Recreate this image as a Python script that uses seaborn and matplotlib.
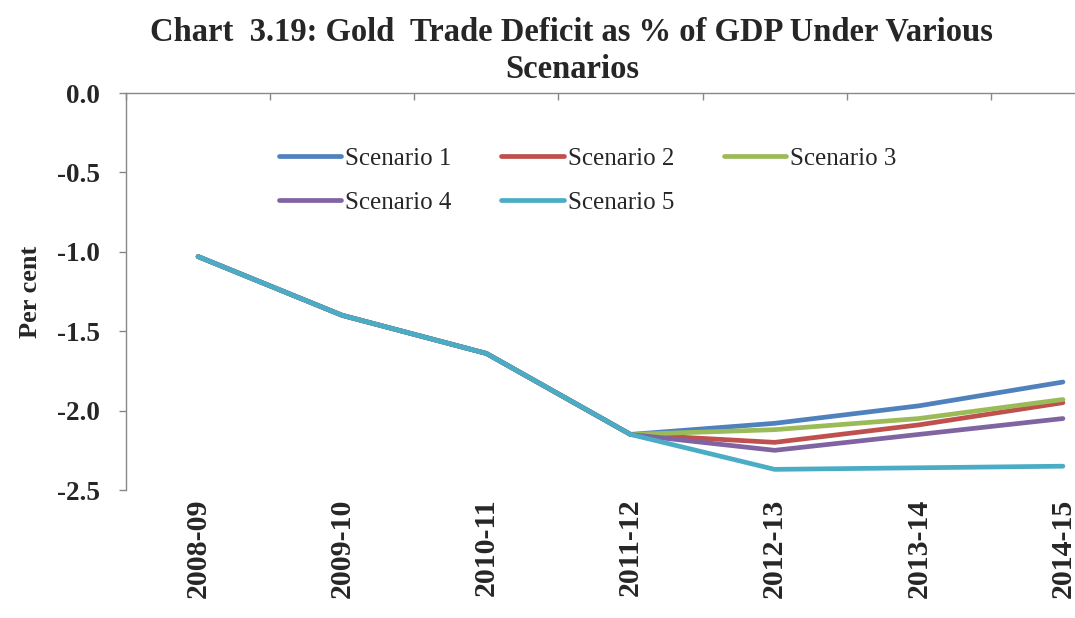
import matplotlib
matplotlib.use("Agg")
import matplotlib.pyplot as plt
from matplotlib.ticker import FixedLocator
import seaborn as sns
import pandas as pd

years = ["2008-09", "2009-10", "2010-11", "2011-12", "2012-13", "2013-14", "2014-15"]
scenarios = ["Scenario 1", "Scenario 2", "Scenario 3", "Scenario 4", "Scenario 5"]

history = [-1.03, -1.40, -1.64, -2.15]
scenario_1 = history + [-2.08, -1.97, -1.82]
scenario_2 = history + [-2.20, -2.09, -1.95]
scenario_3 = history + [-2.12, -2.05, -1.93]
scenario_4 = history + [-2.25, -2.15, -2.05]
scenario_5 = history + [-2.37, -2.36, -2.35]

colors = ["#4F81BD", "#C0504D", "#9BBB59", "#8064A2", "#4BACC6"]

series = [scenario_1, scenario_2, scenario_3, scenario_4, scenario_5]
df = pd.DataFrame(
    [(i, yr, name, v)
     for name, vals in zip(scenarios, series)
     for i, (yr, v) in enumerate(zip(years, vals))],
    columns=["pos", "year", "scenario", "value"],
)

sns.set_theme(style="white")
plt.rcParams["font.family"] = ["Liberation Serif", "DejaVu Serif"]

fig = plt.figure(figsize=(10.75, 6.18), dpi=100)
ax = fig.add_axes([0.1172, 0.2071, 0.9386, 0.6424])

sns.lineplot(data=df, x="pos", y="value", hue="scenario", hue_order=scenarios,
             palette=colors, linewidth=3.4, ax=ax, legend=True, sort=False)

ax.set_xlim(-0.5, 6.5)
ax.set_ylim(-2.5, 0.0)

# y axis
ax.set_yticks([0.0, -0.5, -1.0, -1.5, -2.0, -2.5])
ax.set_yticklabels(["0.0", "-0.5", "-1.0", "-1.5", "-2.0", "-2.5"],
                   fontsize=19.5, fontweight="bold")
ax.tick_params(axis="y", which="major", left=True, direction="out",
               length=5, width=1, color="#888888", pad=14)
ax.set_ylabel("Per cent", fontsize=19, fontweight="bold")
ax.yaxis.set_label_coords(-0.083, 0.5)

# category axis: labels at the bottom, ticks on the top line (y = 0)
ax.set_xticks(range(len(years)))
ax.set_xticklabels(years, rotation=90, fontsize=21.5, fontweight="bold", va="top")
ax.tick_params(axis="x", which="major", bottom=False, top=False, length=0, pad=6)
ax.xaxis.set_minor_locator(FixedLocator([i - 0.5 for i in range(len(years) + 1)]))
ax.tick_params(axis="x", which="minor", top=True, bottom=False, direction="in",
               length=5, width=1, color="#888888")
ax.set_xlabel("")

for side in ["bottom", "right"]:
    ax.spines[side].set_visible(False)
for side in ["left", "top"]:
    ax.spines[side].set_color("#888888")
    ax.spines[side].set_linewidth(1.0)

# legend in rows: Scenario 1-3, then 4-5
handles, labels = ax.get_legend_handles_labels()
order = [0, 3, 1, 4, 2]
ax.legend([handles[i] for i in order], [labels[i] for i in order],
          ncol=3, frameon=False, fontsize=18, handlelength=2.5,
          handletextpad=0.15, columnspacing=2.0, labelspacing=0.85,
          loc="upper left", bbox_to_anchor=(0.129, 0.92))

fig.text(0.532, 0.918,
         "Chart  3.19: Gold  Trade Deficit as % of GDP Under Various\nScenarios",
         ha="center", va="center", fontsize=23.5, fontweight="bold",
         linespacing=1.25)

fig.savefig("out.png", dpi=100, facecolor="white")
